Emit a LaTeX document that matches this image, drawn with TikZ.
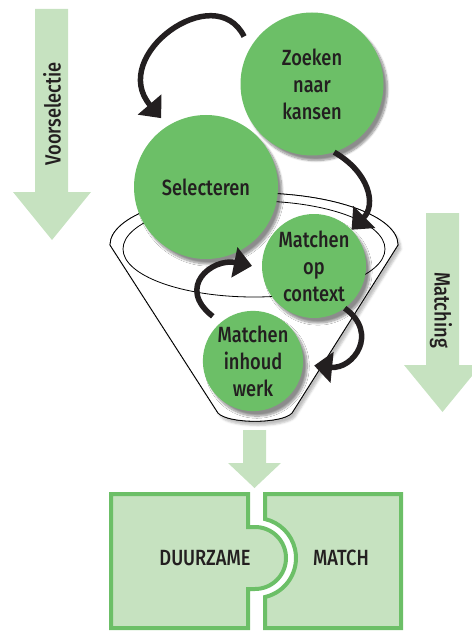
\documentclass[tikz,border=0pt]{standalone}
\usepackage{fontspec}
\setmainfont{Fira Sans Medium}[FakeStretch=0.83]
\usepackage{tikz}
\usetikzlibrary{positioning, arrows.meta, shadows.blur, backgrounds}

\definecolor{leafgreen}{HTML}{6CBF67}
\definecolor{palegreen}{HTML}{C6E2C0}
\definecolor{inkblack}{HTML}{231F20}

\tikzstyle{phase} = [circle, inner sep=0pt, align=center, fill=leafgreen, text=inkblack, font=\fontsize{22}{27}\selectfont, blur shadow={shadow xshift=4pt, shadow yshift=-5pt, shadow blur steps=10, shadow opacity=45}]
\tikzstyle{cyclearrow} = [line width=5.5pt, draw=inkblack, -{Triangle[length=18pt,width=30pt]}]
\tikzstyle{flowarrow} = [fill=palegreen]
\tikzstyle{puzzlepiece} = [fill=palegreen, draw=leafgreen, line width=4pt]
\tikzstyle{bandlabel} = [text=inkblack, font=\fontsize{22}{27}\selectfont]
\tikzstyle{funnel} = [draw=black, line width=0.8pt]

\begin{document}
\begin{tikzpicture}[x=1pt, y=1pt]
\useasboundingbox (0,0) rectangle (471,-631);

% side arrows
\fill [flowarrow] (35,-9) -- (68,-9) -- (68,-192) -- (91,-192) -- (52,-240) -- (13,-192) -- (35,-192) -- cycle;
\node (voorselectie) [bandlabel, rotate=90] at (52,-114) {Voorselectie};
\fill [flowarrow] (426,-213) -- (459,-213) -- (459,-365) -- (481,-365) -- (442.5,-412) -- (404,-365) -- (426,-365) -- cycle;
\node (matching) [bandlabel, rotate=-90] at (441,-310) {Matching};

\node (zoeken) [phase, minimum size=143pt] at (312,-84) {Zoeken\\naar\\kansen};
\node (selecteren) [phase, minimum size=144pt] at (206,-187) {Selecteren};
\node (context) [phase, minimum size=104pt] at (314,-266) {Matchen\\op\\context};
\node (inhoud) [phase, minimum size=100pt] at (253,-361) {Matchen\\inhoud\\werk};

% funnel behind the circles
\begin{scope}[on background layer]
  \draw [funnel, blur shadow={shadow xshift=3pt, shadow yshift=-4pt, shadow opacity=25}] (110,-245) arc [start angle=180, end angle=0, x radius=144, y radius=52] -- (292,-413) .. controls (282,-424) and (228,-424) .. (218,-413) -- cycle;
  \draw [funnel, fill=white] (110,-245) arc [start angle=180, end angle=0, x radius=144, y radius=52] -- (292,-413) .. controls (282,-424) and (228,-424) .. (218,-413) -- cycle;
  \draw [funnel] (254,-249) ellipse [x radius=131, y radius=48];
\end{scope}

\draw [cyclearrow, shorten <=13pt, shorten >=10pt] (zoeken.150) .. controls +(-35,70) and +(-60,70) .. (selecteren.122);
\draw [cyclearrow] (zoeken.-72) .. controls +(35,-20) and +(25,25) .. (context.44);
\draw [cyclearrow, shorten <=10pt, shorten >=10pt] (inhoud.130) .. controls +(-45,35) and +(-50,10) .. (context.182);
\draw [cyclearrow, shorten >=11pt] (context.-54) .. controls +(35,-25) and +(50,-5) .. (inhoud.-4);

% into the match
\fill [flowarrow] (243,-430) -- (266,-430) -- (266,-463) -- (281,-463) -- (254.5,-488) -- (228,-463) -- (243,-463) -- cycle;

\draw [puzzlepiece] (111,-494) -- (248,-494) -- (248,-527) -- (255,-527) arc [start angle=90, end angle=-90, radius=31] -- (248,-589) -- (248,-628) -- (111,-628) -- cycle;
\draw [puzzlepiece] (265,-494) -- (401,-494) -- (401,-628) -- (265,-628) -- (265,-597) arc [start angle=-77, end angle=77, radius=40] -- cycle;
\node (duurzame) [bandlabel] at (205,-558) {DUURZAME};
\node (match) [bandlabel] at (341,-558) {MATCH};
\end{tikzpicture}
\end{document}
